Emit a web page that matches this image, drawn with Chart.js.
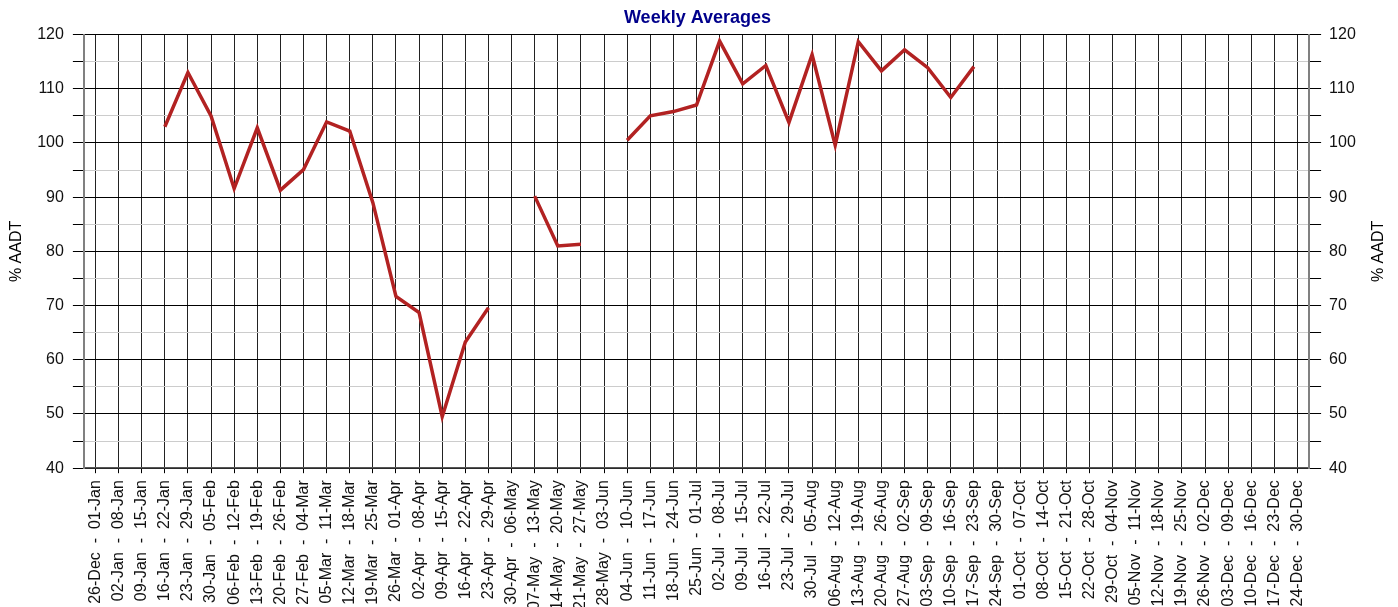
<title>Weekly Averages</title>

<script src="https://cdn.jsdelivr.net/npm/chart.js@4.4.0/dist/chart.umd.min.js"></script>

<style>
  html, body { margin: 0; padding: 0; background: #fff; }
  #wrap { width: 1398px; height: 607px; }
</style>

<div id="wrap"><canvas id="weekChart"></canvas></div>

<script>
  // week ranges (x axis)
  const weeks = [
    "26-Dec  -  01-Jan", "02-Jan  -  08-Jan", "09-Jan  -  15-Jan", "16-Jan  -  22-Jan",
    "23-Jan  -  29-Jan", "30-Jan  -  05-Feb", "06-Feb  -  12-Feb", "13-Feb  -  19-Feb",
    "20-Feb  -  26-Feb", "27-Feb  -  04-Mar", "05-Mar  -  11-Mar", "12-Mar  -  18-Mar",
    "19-Mar  -  25-Mar", "26-Mar  -  01-Apr", "02-Apr  -  08-Apr", "09-Apr  -  15-Apr",
    "16-Apr  -  22-Apr", "23-Apr  -  29-Apr", "30-Apr  -  06-May", "07-May  -  13-May",
    "14-May  -  20-May", "21-May  -  27-May", "28-May  -  03-Jun", "04-Jun  -  10-Jun",
    "11-Jun  -  17-Jun", "18-Jun  -  24-Jun", "25-Jun  -  01-Jul", "02-Jul  -  08-Jul",
    "09-Jul  -  15-Jul", "16-Jul  -  22-Jul", "23-Jul  -  29-Jul", "30-Jul  -  05-Aug",
    "06-Aug  -  12-Aug", "13-Aug  -  19-Aug", "20-Aug  -  26-Aug", "27-Aug  -  02-Sep",
    "03-Sep  -  09-Sep", "10-Sep  -  16-Sep", "17-Sep  -  23-Sep", "24-Sep  -  30-Sep",
    "01-Oct  -  07-Oct", "08-Oct  -  14-Oct", "15-Oct  -  21-Oct", "22-Oct  -  28-Oct",
    "29-Oct  -  04-Nov", "05-Nov  -  11-Nov", "12-Nov  -  18-Nov", "19-Nov  -  25-Nov",
    "26-Nov  -  02-Dec", "03-Dec  -  09-Dec", "10-Dec  -  16-Dec", "17-Dec  -  23-Dec",
    "24-Dec  -  30-Dec"
  ];

  // % of AADT per week, null = no data
  const pctAADT = [
    null, null, null, 103.0,
    113.0, 105.0, 91.6, 102.8,
    91.3, 95.1, 103.9, 102.2,
    89.0, 71.7, 68.7, 49.5,
    63.3, 69.6, null, 90.2,
    81.0, 81.3, null, 100.5,
    105.0, 105.8, 107.0, 118.8,
    110.9, 114.3, 103.8, 116.3,
    99.6, 118.7, 113.3, 117.2,
    113.9, 108.4, 114.1, null,
    null, null, null, null,
    null, null, null, null,
    null, null, null, null,
    null
  ];

  const yMin = 40;
  const yMax = 120;
  const yStep = 5;

  const tickFont = { family: "'Liberation Sans', Arial, sans-serif", size: 16 };
  const axisTitleFont = { family: "'Liberation Sans', Arial, sans-serif", size: 16 };

  // right axis title reads bottom-to-top like the left one
  const rightTitle = {
    id: "rightTitle",
    afterDraw(chart) {
      const s = chart.scales.y2;
      const area = chart.chartArea;
      const ctx = chart.ctx;
      ctx.save();
      ctx.font = "16px 'Liberation Sans', Arial, sans-serif";
      ctx.fillStyle = "#000";
      ctx.textAlign = "center";
      ctx.textBaseline = "middle";
      ctx.translate(s.right - 9.6, (area.top + area.bottom) / 2);
      ctx.rotate(-Math.PI / 2);
      ctx.fillText("% AADT", 0, 0);
      ctx.restore();
    }
  };

  const gridColor = (c) => (c.tick && c.tick.value % 10 === 0) ? "#000" : "#cccccc";

  const ctx = document.getElementById("weekChart").getContext("2d");

  const chart = new Chart(ctx, {
    type: "line",
    data: {
      labels: weeks,
      datasets: [{
        label: "Weekly Averages",
        data: pctAADT,
        borderColor: "#b22222",
        backgroundColor: "#b22222",
        borderWidth: 3.5,
        pointRadius: 0,
        tension: 0,
        borderJoinStyle: "miter",
        spanGaps: false,
        yAxisID: "y"
      }]
    },
    options: {
      responsive: true,
      maintainAspectRatio: false,
      animation: false,
      layout: { padding: { top: 0, left: 7, right: 10, bottom: -10 } },
      plugins: {
        legend: { display: false },
        tooltip: { enabled: false },
        title: {
          display: true,
          text: "Weekly Averages",
          color: "#00008b",
          font: { family: "'Liberation Sans', Arial, sans-serif", size: 18, weight: "bold" },
          padding: { top: 7, bottom: 6 }
        }
      },
      scales: {
        x: {
          offset: true,
          grid: { offset: false, color: "#222", tickColor: "#000", tickLength: 5, lineWidth: 1 },
          border: { color: "#555", width: 1.5 },
          ticks: {
            autoSkip: false,
            maxRotation: 90,
            minRotation: 90,
            padding: 7,
            color: "#111",
            font: tickFont
          }
        },
        y: {
          position: "left",
          min: yMin,
          max: yMax,
          grid: { color: gridColor, tickColor: "#000", tickLength: 11, lineWidth: 1 },
          border: { color: "#808080", width: 2 },
          ticks: {
            stepSize: yStep,
            padding: 9,
            color: "#111",
            font: tickFont,
            callback: (v) => v % 10 === 0 ? v : ""
          },
          title: {
            display: true,
            text: "% AADT",
            color: "#000",
            font: axisTitleFont,
            padding: { top: 0, bottom: 2 }
          }
        },
        y2: {
          position: "right",
          min: yMin,
          max: yMax,
          grid: { drawOnChartArea: false, tickColor: "#000", tickLength: 12 },
          border: { color: "#808080", width: 2 },
          ticks: {
            stepSize: yStep,
            padding: 8,
            color: "#111",
            font: tickFont,
            callback: (v) => v % 10 === 0 ? v : ""
          },
          title: {
            display: true,
            text: "% AADT",
            color: "rgba(0,0,0,0)",
            font: axisTitleFont,
            padding: { top: 0, bottom: 5 }
          }
        }
      }
    },
    plugins: [rightTitle]
  });
</script>
